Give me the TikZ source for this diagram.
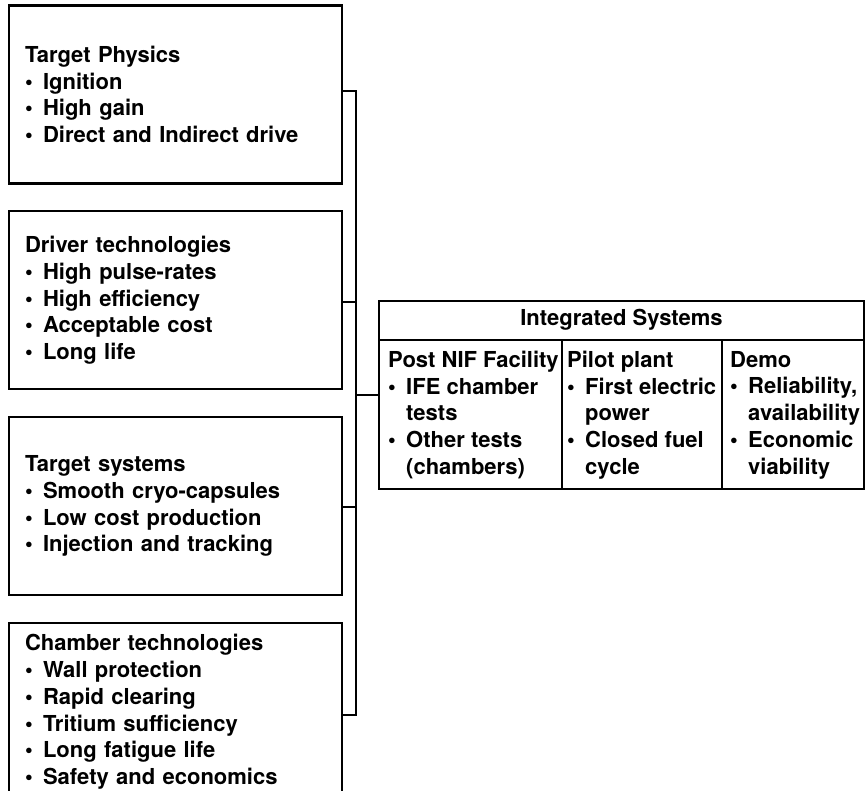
\documentclass[tikz,border=0pt]{standalone}
\usepackage{fontspec}
\setmainfont{TeX Gyre Heros}
\usetikzlibrary{positioning}

\newcommand{\itm}{\makebox[0.82em][l]{\textbullet}}
\newcommand{\itmgap}{\hspace*{0.82em}}

\begin{document}
\begin{tikzpicture}[
				x=1pt, y=-1pt,
				font=\fontsize{22}{26.7}\selectfont\bfseries,
				node distance=25.5pt,
				topic/.style={draw, line width=2.3pt, rectangle, minimum width=333pt, minimum height=178pt, text width=301pt, inner xsep=16pt, align=left},
				cell/.style={anchor=north west, inner sep=0pt, align=left},
				link/.style={line width=2pt}
				]
				
				\useasboundingbox (0,0) rectangle (865,791);
				
				% Research areas
				\node[topic] (physics) at (175.5,94.5) {Target Physics\\ \itm Ignition\\ \itm High gain\\ \itm Direct and Indirect drive};
				\node[topic, below=of physics] (driver) {Driver technologies\\ \itm High pulse-rates\\ \itm High efficiency\\ \itm Acceptable cost\\ \itm Long life};
				\node[topic, below=of driver] (targets) {Target systems\\ \itm Smooth cryo-capsules\\ \itm Low cost production\\ \itm Injection and tracking};
				\node[topic, below=of targets] (chamber) {Chamber technologies\\ \itm Wall protection\\ \itm Rapid clearing\\ \itm Tritium sufficiency\\ \itm Long fatigue life\\ \itm Safety and economics};
				
				% Integrated systems table
				\node[draw, line width=2.3pt, rectangle, minimum width=485pt, minimum height=188pt] (table) at (621.5,395) {};
				\coordinate (hl) at (379,340);
				\coordinate (hr) at (864,340);
				\coordinate (d1) at (562,340);
				\coordinate (d2) at (722,340);
				\draw[line width=2.3pt] (hl) -- (hr);
				\node (title) at (621.5,320) {Integrated Systems};
				\draw[link] (d1) -- (d1 |- table.south);
				\draw[link] (d2) -- (d2 |- table.south);
				
				\node[cell] (nif) at (388,351) {Post NIF Facility\\ \itm IFE chamber\\ \itmgap tests\\ \itm Other tests\\ \itmgap (chambers)};
				\node[cell] (pilot) at (567,351) {Pilot plant\\ \itm First electric\\ \itmgap power\\ \itm Closed fuel\\ \itmgap cycle};
				\node[cell] (demo) at (730,351) {Demo\\ \itm Reliability,\\ \itmgap availability\\ \itm Economic\\ \itmgap viability};
				
				% Bus
				\coordinate (j1) at (356,91);
				\coordinate (j2) at (356,302);
				\coordinate (j3) at (356,507);
				\coordinate (j4) at (356,715);
				\coordinate (jt) at (j1 |- table.west);
				
				\draw[link] (physics.east |- j1) -- (j1) -- (j4) -- (chamber.east |- j4);
				\draw[link] (driver.east |- j2) -- (j2);
				\draw[link] (targets.east |- j3) -- (j3);
				\draw[link] (jt) -- (table.west);
				
			\end{tikzpicture}
\end{document}
